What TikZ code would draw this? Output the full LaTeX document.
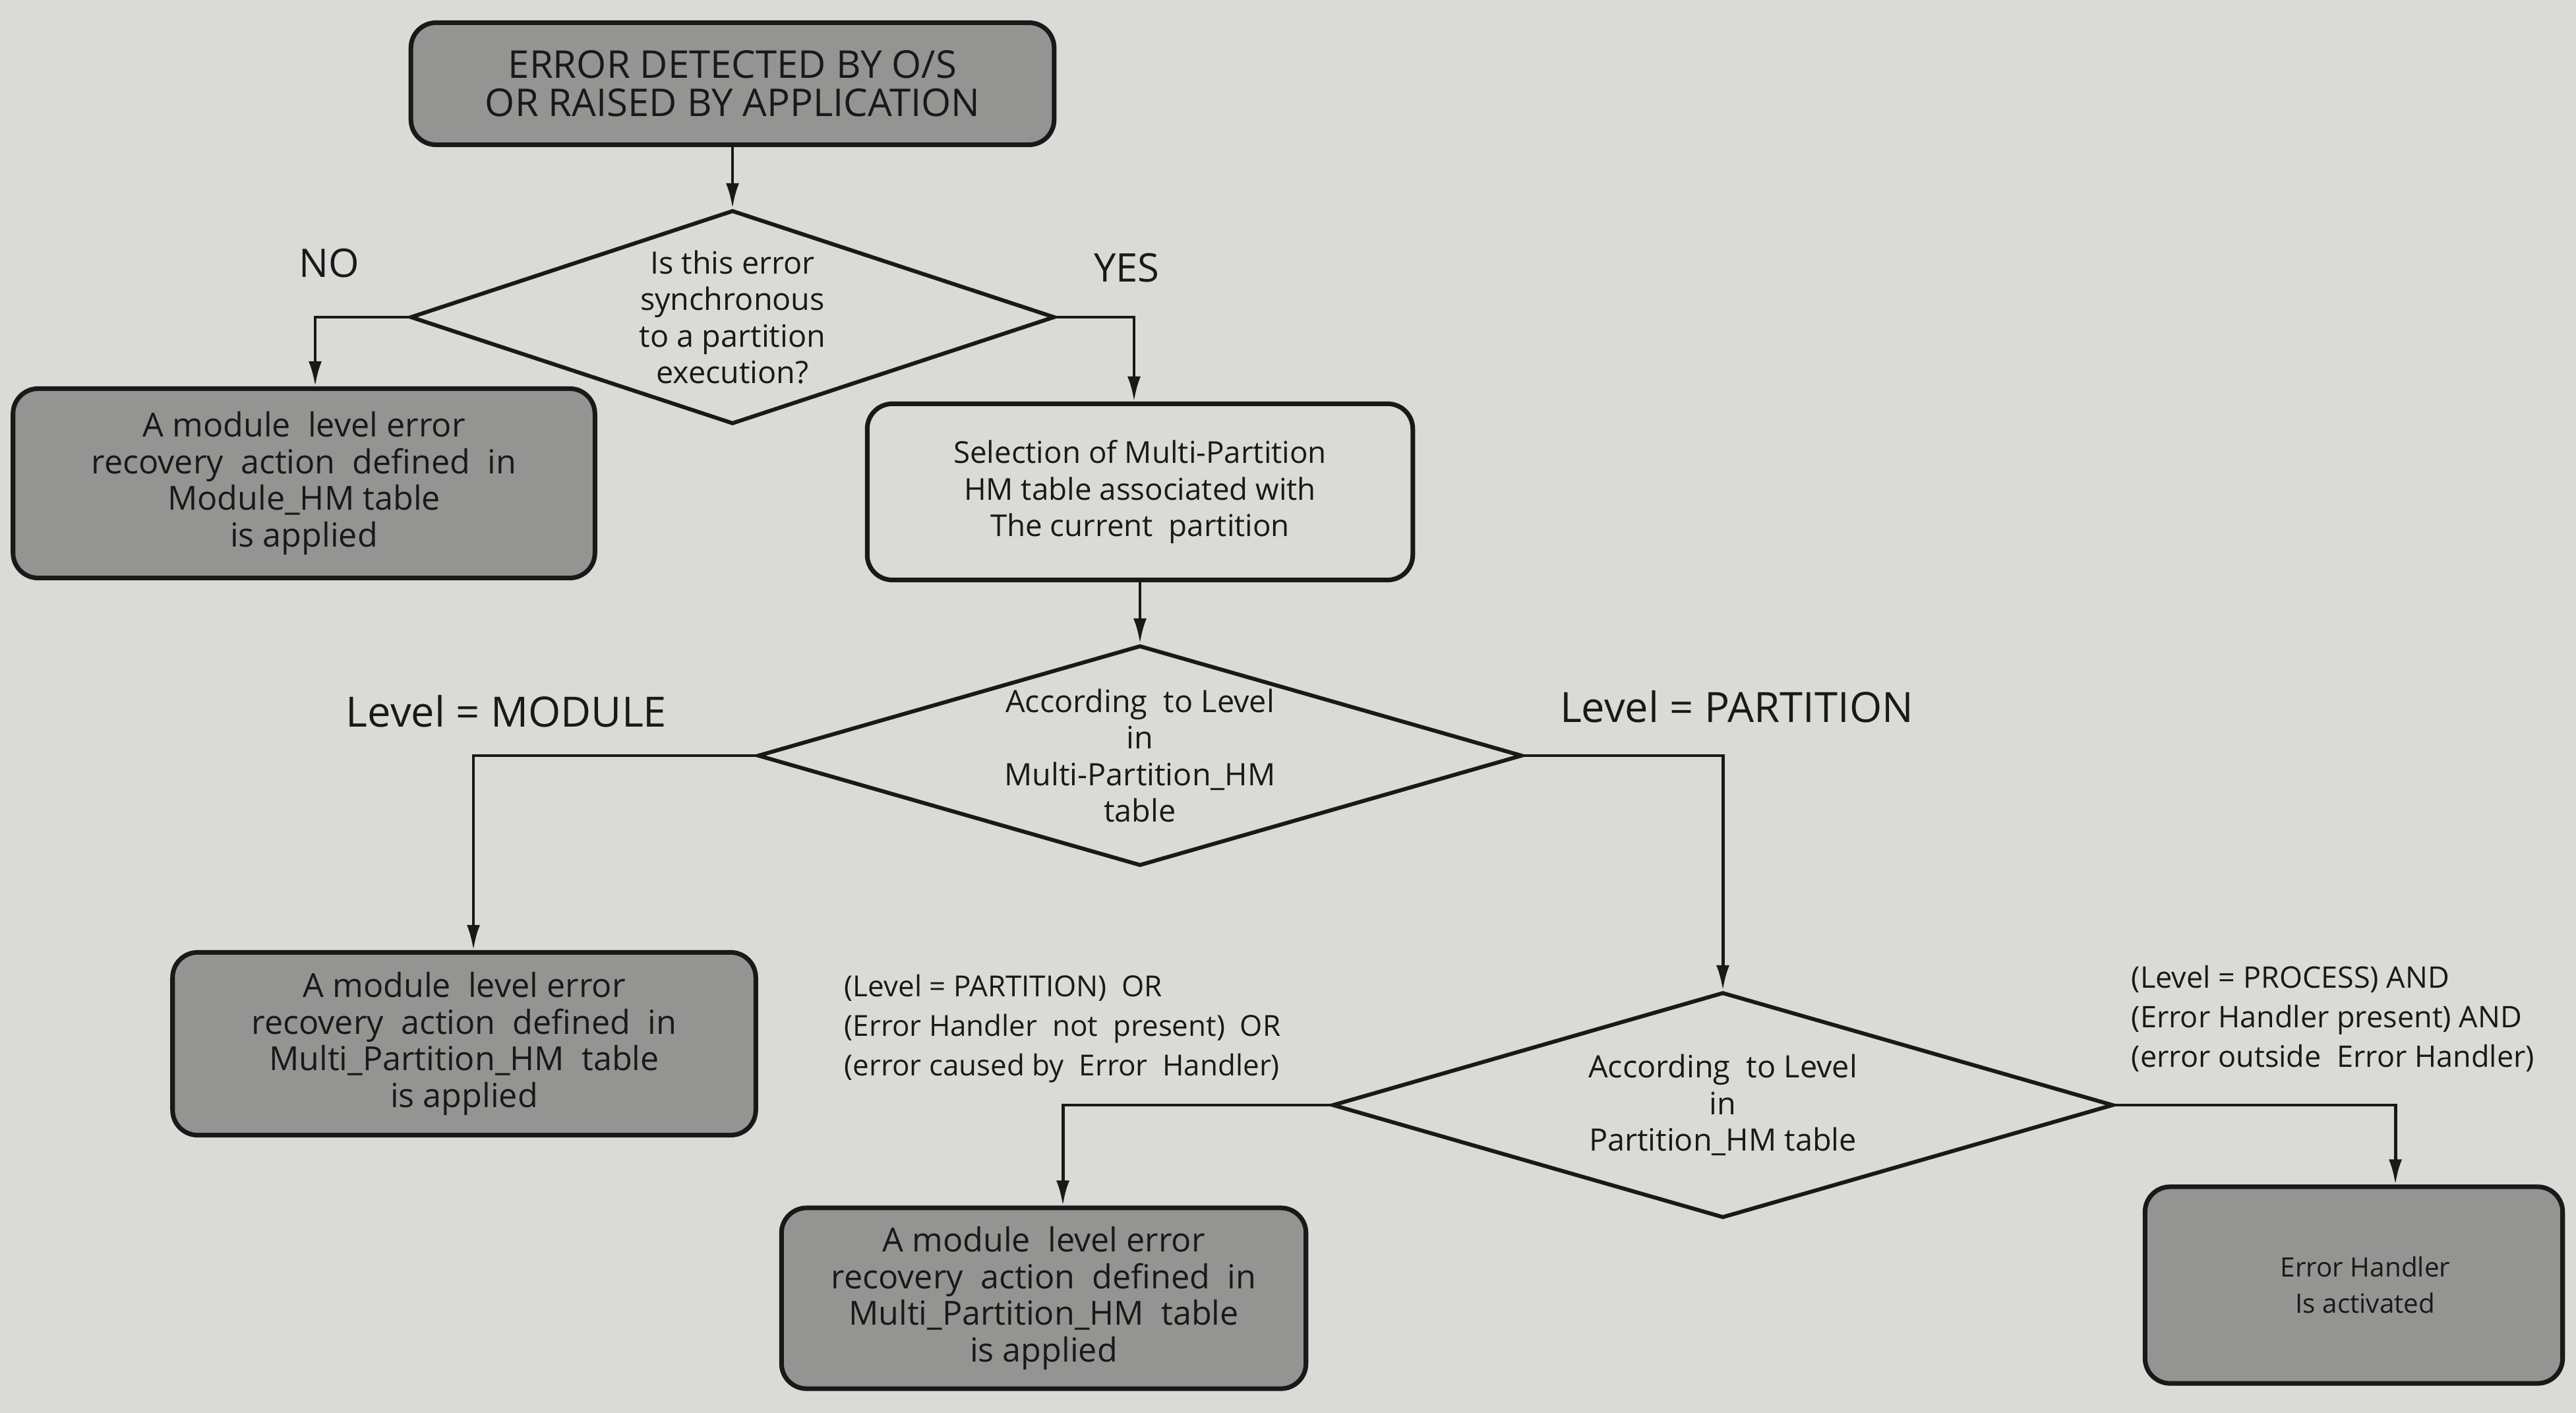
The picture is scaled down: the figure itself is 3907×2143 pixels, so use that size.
\documentclass[tikz,border=0pt]{standalone}
\usepackage{fontspec}
\setmainfont{Open Sans}
\usetikzlibrary{shapes.geometric,arrows.meta}
\definecolor{paper}{RGB}{218,218,215}
\definecolor{boxfill}{RGB}{148,148,146}
\definecolor{ink}{RGB}{25,25,25}
\tikzset{
  darkbox/.style={draw=ink,line width=2pt,fill=boxfill,rounded corners=0.38cm,align=center,inner sep=0pt,text=ink,font=\fontsize{14.3}{15.8}\selectfont},
  whitebox/.style={darkbox,fill=paper},
  decision/.style={diamond,draw=ink,line width=1.7pt,fill=paper,align=center,inner sep=0pt,text=ink,font=\fontsize{13.3}{15.8}\selectfont},
  arr/.style={draw=ink,line width=1.4pt,-{Latex[length=0.38cm,width=0.2cm]}},
  lbl/.style={text=ink,inner sep=0pt},
}
\begin{document}
\begin{tikzpicture}[x=0.01cm,y=-0.01cm]
\useasboundingbox[fill=paper] (0,0) rectangle (3907,2143);

\node[darkbox,minimum width=9.75cm,minimum height=1.85cm,font=\fontsize{16.5}{16.5}\selectfont] (top) at (1111,127)
  {ERROR DETECTED BY O/S\\OR RAISED BY APPLICATION};

\node[decision,aspect=3.0,minimum width=9.77cm,minimum height=3.24cm] (d1) at (1111,481)
  {Is this error\\synchronous\\to a partition\\execution?};

\node[darkbox,minimum width=8.82cm,minimum height=2.87cm] (b1) at (461,733)
  {A module \ level error\\recovery \ action \ defined \ in\\Module\_HM table\\is applied};

\node[whitebox,minimum width=8.27cm,minimum height=2.67cm,font=\fontsize{13}{15.8}\selectfont] (b2) at (1729,746)
  {Selection of Multi-Partition\\HM table associated with\\The current \ partition};

\node[decision,aspect=3.47,minimum width=11.59cm,minimum height=3.34cm] (d2) at (1729,1146)
  {According \ to Level\\in\\Multi-Partition\_HM\\table};

\node[darkbox,minimum width=8.84cm,minimum height=2.77cm] (b3) at (704,1583)
  {A module \ level error\\recovery \ action \ defined \ in\\Multi\_Partition\_HM \ table\\is applied};

\node[decision,aspect=3.46,minimum width=11.84cm,minimum height=3.42cm] (d3) at (2613,1676)
  {According \ to Level\\in\\Partition\_HM table};

\node[darkbox,minimum width=7.95cm,minimum height=2.74cm] (b4) at (1583,1969)
  {A module \ level error\\recovery \ action \ defined \ in\\Multi\_Partition\_HM \ table\\is applied};

\node[darkbox,minimum width=6.33cm,minimum height=2.98cm,font=\fontsize{11.5}{15.6}\selectfont] (b5) at (3570,1949)
  {\hspace*{0.35cm}Error Handler\\\hspace*{0.35cm}Is activated};

% labels
\node[lbl,font=\fontsize{17}{19}\selectfont] (no) at (499,399) {NO};
\node[lbl,font=\fontsize{17}{19}\selectfont] (yes) at (1709,406) {YES};
\node[lbl,font=\fontsize{18}{20}\selectfont] (lvm) at (768,1079) {Level = MODULE};
\node[lbl,font=\fontsize{18}{20}\selectfont] (lvp) at (2634,1072) {Level = PARTITION};
\node[lbl,anchor=west,align=left,font=\fontsize{12.5}{17}\selectfont] (c1) at (1280,1560)
  {(Level = PARTITION) \ OR\\(Error Handler \ not \ present) \ OR\\(error caused by \ Error \ Handler)};
\node[lbl,anchor=west,align=left,font=\fontsize{12.8}{17}\selectfont] (c2) at (3232,1545)
  {(Level = PROCESS) AND\\(Error Handler present) AND\\(error outside \ Error Handler)};

% connectors
\draw[arr] (top.south) -- (d1.north);
\draw[arr] (d1.west) -| ([xshift=0.17cm]b1.north);
\draw[arr] (d1.east) -| ([xshift=-0.09cm]b2.north);
\draw[arr] (b2.south) -- (d2.north);
\draw[arr] (d2.west) -| ([xshift=0.14cm]b3.north);
\draw[arr] (d2.east) -| (d3.north);
\draw[arr] (d3.west) -| ([xshift=0.29cm]b4.north);
\draw[arr] (d3.east) -| ([xshift=0.63cm]b5.north);
\end{tikzpicture}
\end{document}
